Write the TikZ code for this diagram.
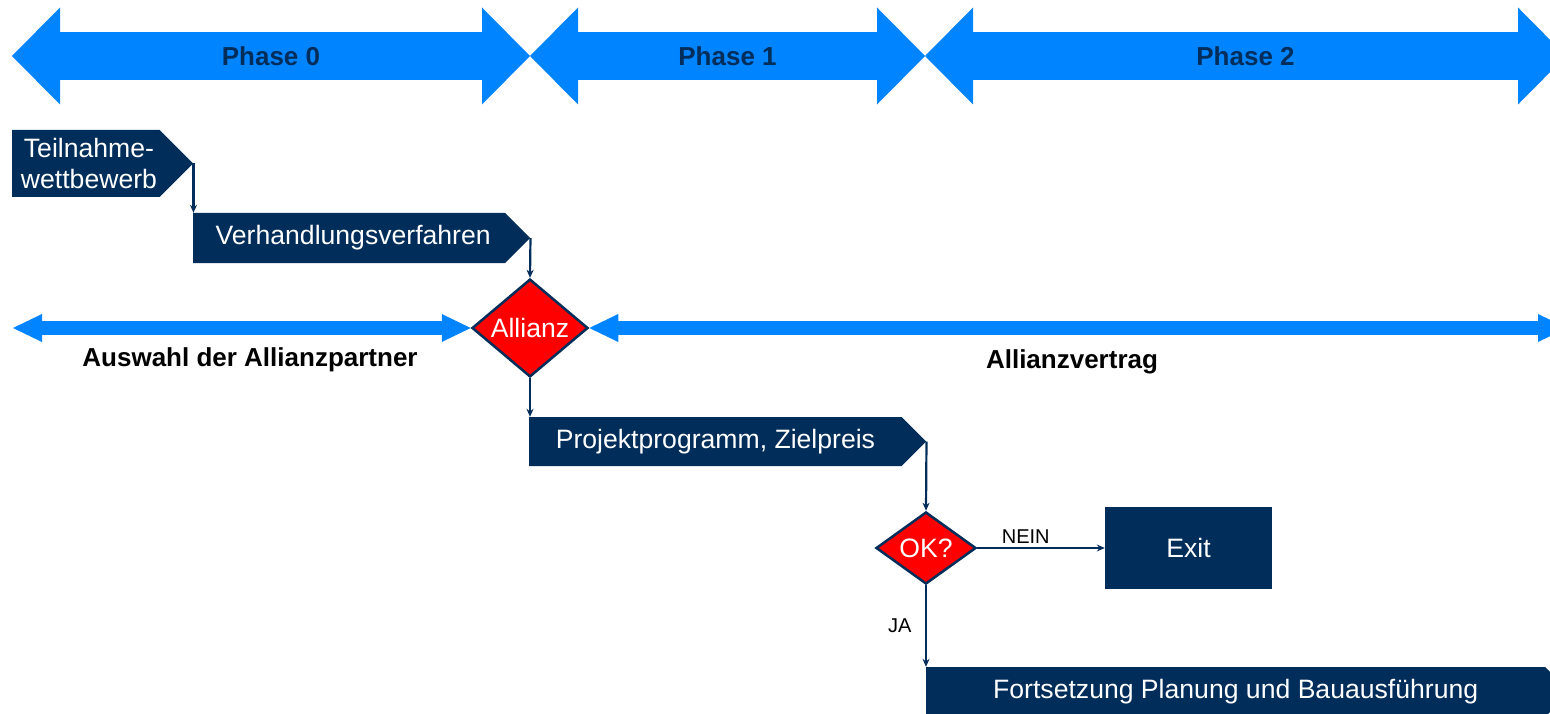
\documentclass[tikz,border=0pt]{standalone}
\usepackage{fontspec}
\setmainfont{Liberation Sans}
\usetikzlibrary{shapes.geometric,shapes.symbols,arrows.meta,positioning}
\definecolor{phaseblue}{RGB}{0,132,255}
\definecolor{navy}{RGB}{0,45,90}
\definecolor{okred}{RGB}{255,0,0}

\tikzset{
	phase/.style={line width=48pt, phaseblue,
		{Triangle[length=48pt,width=97pt,line width=0pt]}-{Triangle[length=48pt,width=97pt,line width=0pt]}},
	span/.style={line width=14pt, phaseblue,
		{Triangle[length=29pt,width=28pt,line width=0pt]}-{Triangle[length=29pt,width=28pt,line width=0pt]}},
	phasetext/.style={text=navy, font=\bfseries\fontsize{26}{31}\selectfont},
	spanlabel/.style={text=black, font=\bfseries\fontsize{26}{31}\selectfont},
	stepbox/.style={shape=signal, signal to=east, signal pointer angle=90,
		fill=navy, text=white, inner sep=0pt, anchor=west, align=center,
		font=\fontsize{26.6}{31}\selectfont},
	exitbox/.style={shape=rectangle, fill=navy, text=white, inner sep=0pt,
		font=\fontsize{26.6}{31}\selectfont},
	decision/.style={shape=diamond, fill=okred, draw=navy, line width=2.5pt,
		text=white, inner sep=0pt, font=\fontsize{26.6}{31}\selectfont},
	flow/.style={draw=navy, line width=2.2pt, -{Stealth[length=8pt,width=7pt]}},
	flowlabel/.style={text=black, font=\fontsize{20}{24}\selectfont},
}

\begin{document}
\begin{tikzpicture}[x=1pt, y=-1pt]
	\path[use as bounding box, clip] (0,0) rectangle (1550,714);

	% phases on top
	\foreach \a/\b/\t [count=\i from 0] in {12/530/Phase 0, 530/925/Phase 1, 925/1566/Phase 2}
		\draw[phase] (\a,56) -- node[phasetext] (phase\i) {\t} (\b,56);

	% steps
	\node[stepbox, minimum width=181pt, minimum height=67pt] (teilnahme) at (12,163.5) {\hspace*{6pt}Teilnahme-\\\hspace*{6pt}wettbewerb};
	\node[stepbox, minimum width=337pt, minimum height=50pt] (verhandlung) at (193,238) {\hspace*{8pt}Verhandlungsverfahren};
	\node[decision, minimum width=116pt, minimum height=87pt] (allianz) at (530,328) {Allianz};
	\node[stepbox, minimum width=397pt, minimum height=49pt] (projekt) at (529,441.5) {Projektprogramm, Zielpreis};
	\node[decision, minimum width=100pt, minimum height=70pt] (ok) at (926,548) {OK?};
	\node[exitbox, minimum width=167pt, minimum height=82pt] (exit) at (1188.5,548) {Exit};
	\node[stepbox, minimum width=644pt, minimum height=50pt] (fortsetzung) at (926,692) {Fortsetzung Planung und Bauausführung};

	% alliance spans
	\coordinate (leftend) at (13,328);
	\coordinate (rightend) at (1567,328);
	\draw[span] (leftend) -- (allianz.west);
	\draw[span] (allianz.east) -- (rightend);
	\node[spanlabel] (auswahl) at (250,360) {Auswahl der Allianzpartner};
	\node[spanlabel] (vertrag) at (1072,362) {Allianzvertrag};

	% flow
	\draw[flow] (teilnahme.east) -- (teilnahme.east |- verhandlung.north);
	\draw[flow] (verhandlung.east) -- (allianz.north);
	\draw[flow] (allianz.south) -- (allianz.south |- projekt.north);
	\draw[flow] (projekt.east) -- (ok.north);
	\draw[flow] (ok.east) -- node[flowlabel, above, pos=0.38] (nein) {NEIN} (exit.west);
	\draw[flow] (ok.south) -- node[flowlabel, left=10pt] (ja) {JA} (ok.south |- fortsetzung.north);
\end{tikzpicture}
\end{document}
